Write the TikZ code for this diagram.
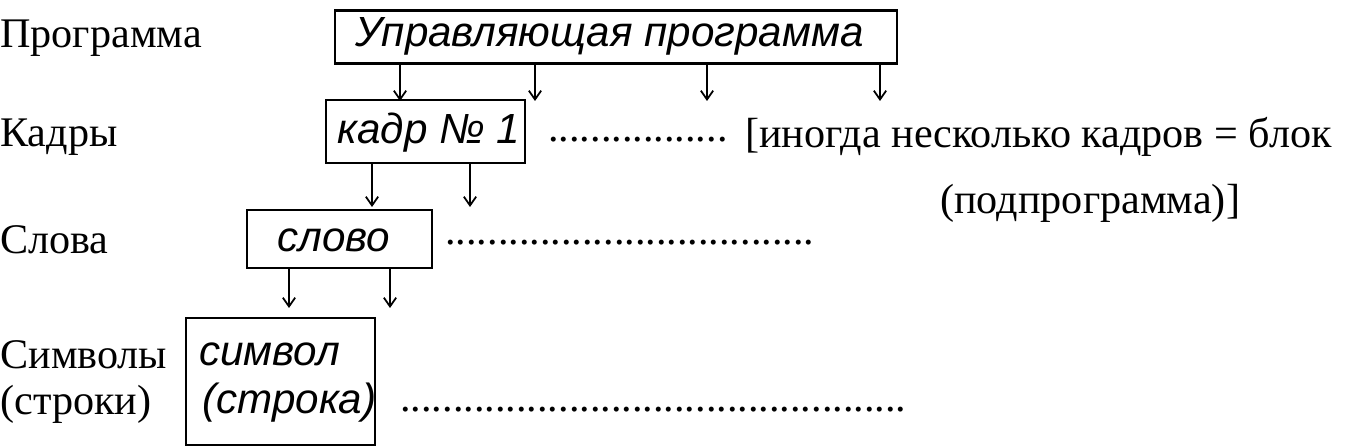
\documentclass[tikz,border=0pt]{standalone}
\usetikzlibrary{arrows.meta}
\usepackage{fontspec}
\setmainfont{Liberation Serif}
\newfontfamily\boxfont{Liberation Sans}
\begin{document}
\begin{tikzpicture}[x=0.02cm,y=-0.02cm,
  lbl/.style={font=\fontsize{24}{27}\selectfont, inner sep=0pt},
  bx/.style={draw, line width=1.2pt, inner sep=0pt},
  bt/.style={font=\boxfont\itshape\fontsize{24}{27}\selectfont, inner sep=0pt, anchor=west},
  arr/.style={-{Straight Barb[length=5pt,width=7pt]}, line width=1pt}]
\useasboundingbox (0,0) rectangle (1345,448);
\node[lbl, anchor=west] (l1) at (0,38) {Программа};
\node[lbl, anchor=west] (l2) at (0,137) {Кадры};
\node[lbl, anchor=west] (l3) at (0,240) {Слова};
\node[lbl, anchor=west] (l4) at (0,355) {Символы};
\node[lbl, anchor=west] (l5) at (0,404) {(строки)};
\node[bx, minimum width=562*0.02cm, minimum height=53*0.02cm] (p) at (616,37) {};
\node[bt] (pt) at (355,36) {Управляющая программа};
\node[bx, minimum width=199*0.02cm, minimum height=63*0.02cm] (k) at (425.5,131.5) {};
\node[bt] (kt) at (337,133) {кадр № 1};
\node[bx, minimum width=185*0.02cm, minimum height=58*0.02cm] (s) at (339.5,239) {};
\node[bt] (st) at (277,240) {слово};
\node[bx, minimum width=189*0.02cm, minimum height=127*0.02cm] (c) at (280.5,381.5) {};
\node[bt] (ct1) at (199,354) {символ};
\node[bt] (ct2) at (202,403) {(строка)};
\foreach \x/\n in {400/a,535/b,707/c,880/d} {
  \coordinate (pa\n) at (\x,63); \coordinate (pe\n) at (\x,101);
  \draw[arr] (pa\n) -- (pe\n);}
\foreach \x/\n in {372/a,470/b} {
  \coordinate (ka\n) at (\x,163); \coordinate (ke\n) at (\x,207);
  \draw[arr] (ka\n) -- (ke\n);}
\foreach \x/\n in {289/a,390/b} {
  \coordinate (sa\n) at (\x,268); \coordinate (se\n) at (\x,308);
  \draw[arr] (sa\n) -- (se\n);}
\node[lbl, anchor=west] (d1) at (548,140) {.................};
\node[lbl, anchor=west] (t1) at (745,137) {[иногда\ несколько кадров = блок};
\node[lbl, anchor=west] (t2) at (940,203) {(подпрограмма)]};
\node[lbl, anchor=west] (d2) at (445,243) {...................................};
\node[lbl, anchor=west] (d3) at (400,410) {................................................};
\end{tikzpicture}
\end{document}
